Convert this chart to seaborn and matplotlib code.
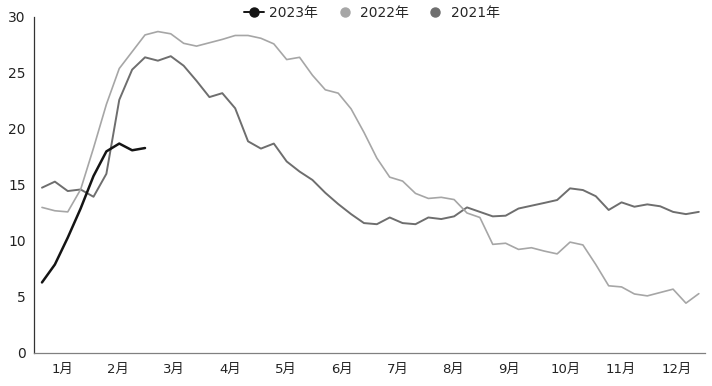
import numpy as np
import pandas as pd
import matplotlib
matplotlib.use("Agg")
import matplotlib.pyplot as plt
from matplotlib.lines import Line2D
import seaborn as sns

# ── Data (weekly values) ─────────────────────────────────────────────────────

MONTHS = ["1月", "2月", "3月", "4月", "5月", "6月",
          "7月", "8月", "9月", "10月", "11月", "12月"]

Y2023 = [6.3, 7.9, 10.3, 12.9, 15.8, 18.0, 18.7, 18.1, 18.3]

Y2022 = [13.0, 12.7, 12.6, 14.6, 18.3, 22.2, 25.4, 26.9, 28.4, 28.7,
         28.5, 27.65, 27.4, 27.7, 28.0, 28.35, 28.35, 28.1, 27.6, 26.2,
         26.4, 24.8, 23.5, 23.2, 21.8, 19.7, 17.4, 15.7, 15.35, 14.25,
         13.8, 13.9, 13.7, 12.5, 12.1, 9.7, 9.8, 9.25, 9.4, 9.1,
         8.85, 9.9, 9.65, 7.9, 6.0, 5.9, 5.27, 5.1, 5.4, 5.7,
         4.45, 5.3]

Y2021 = [14.76, 15.3, 14.46, 14.6, 13.95, 16.0, 22.6, 25.3, 26.4, 26.1,
         26.5, 25.65, 24.3, 22.85, 23.2, 21.85, 18.9, 18.25, 18.7, 17.1,
         16.2, 15.45, 14.3, 13.3, 12.4, 11.6, 11.5, 12.1, 11.6, 11.5,
         12.1, 11.96, 12.2, 13.0, 12.6, 12.2, 12.26, 12.9, 13.15, 13.4,
         13.66, 14.7, 14.55, 14.0, 12.77, 13.45, 13.06, 13.27, 13.1, 12.6,
         12.4, 12.6]

SERIES = {"2023年": Y2023, "2022年": Y2022, "2021年": Y2021}
COLORS = {"2023年": "#141414", "2022年": "#a6a6a6", "2021年": "#6e6e6e"}
WIDTHS = {"2023年": 1.8, "2022年": 1.2, "2021年": 1.4}

# ── Build long table ─────────────────────────────────────────────────────────

frames = []
for name, vals in SERIES.items():
    frames.append(pd.DataFrame({"week": np.arange(len(vals)),
                                "value": vals, "year": name}))
df = pd.concat(frames, ignore_index=True)

# ── Plot ─────────────────────────────────────────────────────────────────────

sns.set_style("white")
plt.rcParams["font.family"] = ["DejaVu Sans", "Noto Sans CJK SC"]

fig = plt.figure(figsize=(7.12, 3.86), dpi=100)
ax = fig.add_axes([34 / 712, 1 - 353 / 386, (705 - 34) / 712, (353 - 17) / 386])

# draw older years first so 2023 sits on top
for name in ["2021年", "2022年", "2023年"]:
    sns.lineplot(data=df[df["year"] == name], x="week", y="value",
                 color=COLORS[name], linewidth=WIDTHS[name], ax=ax,
                 legend=False)

x0 = -0.62
mw = 52.1 / 12
ax.set_xlim(x0, x0 + 12 * mw)
ax.set_ylim(0, 30)
ax.set_yticks(range(0, 31, 5))

edges = [x0 + k * mw for k in range(13)]
centers = [x0 + (k + 0.5) * mw for k in range(12)]
ax.set_xticks(edges)
ax.set_xticklabels([])
ax.set_xticks(centers, minor=True)
ax.set_xticklabels(MONTHS, minor=True)
ax.tick_params(axis="x", which="major", direction="inout", length=5,
               color="#808080", width=0.8)
ax.tick_params(axis="x", which="minor", length=0, pad=7, labelsize=9.5,
               labelcolor="#222222")
ax.tick_params(axis="y", direction="out", length=4, width=0.8,
               color="#333333", labelsize=10, labelcolor="#222222", pad=2)

ax.set_xlabel("")
ax.set_ylabel("")
for s in ["top", "right"]:
    ax.spines[s].set_visible(False)
ax.spines["left"].set_color("#333333")
ax.spines["left"].set_linewidth(0.9)
ax.spines["bottom"].set_color("#808080")
ax.spines["bottom"].set_linewidth(0.9)
ax.grid(False)

handles = [
    Line2D([], [], color=COLORS["2023年"], lw=1.4, marker="o", markersize=6.5),
    Line2D([], [], color=COLORS["2022年"], lw=0, marker="o", markersize=6.5),
    Line2D([], [], color=COLORS["2021年"], lw=0, marker="o", markersize=6.5),
]
fig.legend(handles, list(SERIES.keys()), loc="center",
           bbox_to_anchor=(372 / 712, 1 - 13 / 386), ncol=3, frameon=False,
           fontsize=10, handlelength=1.4, handletextpad=0.4,
           columnspacing=1.2, borderaxespad=0)

fig.savefig("out.png", dpi=100)
